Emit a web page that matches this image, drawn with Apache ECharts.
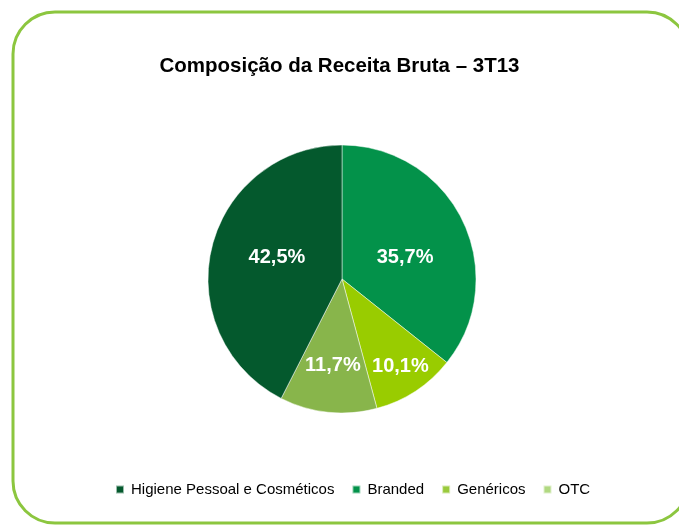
<!DOCTYPE html>
<html>
<head>
<meta charset="utf-8">
<script src="https://cdn.jsdelivr.net/npm/echarts@6/dist/echarts.min.js"></script>
<style>
  html, body { margin: 0; padding: 0; background: #fff; }
  #chart { width: 679px; height: 525px; }
</style>
</head>
<body>
<div id="chart"></div>
<script>
// dados do grafico
var categorias = ['Branded', 'Genéricos', 'OTC', 'Higiene Pessoal e Cosméticos'];
var valores = [35.7, 10.1, 11.7, 42.5];
var rotulos = ['35,7%', '10,1%', '11,7%', '42,5%'];
var legendaOrdem = ['Higiene Pessoal e Cosméticos', 'Branded', 'Genéricos', 'OTC'];

var cores = ['#03924a', '#99cc00', '#88b54b', '#04592d'];
var coresLegenda = { 'Higiene Pessoal e Cosméticos': '#04592d', 'Branded': '#03924a', 'Genéricos': '#9aca3c', 'OTC': '#b1d981' };
// fatias pequenas: rotulo empurrado para fora; ajuste fino dos rotulos
var escalaRotulo = [1, 1.52, 1.26, 1];
var ajusteX = [0, 0, 0, 3];
var ajusteY = [9, -1, -1, -5];

var CX = 342, CY = 279;

var myChart = echarts.init(document.getElementById('chart'));
myChart.setOption({
    animation: false,
    graphic: [{
        type: 'rect',
        shape: { x: 13, y: 12, width: 676, height: 511, r: 42 },
        style: { fill: 'none', stroke: '#8cc63f', lineWidth: 3 },
        silent: true
    }],
    title: {
        text: 'Composição da Receita Bruta – 3T13',
        left: 'center',
        top: 51,
        textStyle: { fontFamily: 'Liberation Sans, Arial', fontSize: 20.5, fontWeight: 'bold', color: '#000' }
    },
    legend: {
        data: legendaOrdem.map(function (n) { return { name: n, itemStyle: { color: coresLegenda[n] } }; }),
        left: 110,
        top: 477,
        icon: 'rect',
        itemWidth: 8,
        itemHeight: 8,
        itemGap: 17,
        textStyle: { fontFamily: 'Liberation Sans, Arial', fontSize: 15, color: '#000', padding: [0, 0, 0, 2] }
    },
    series: [{
        type: 'pie',
        center: [CX, CY],
        radius: [0, 134],
        startAngle: 90,
        clockwise: true,
        color: cores,
        itemStyle: { borderColor: 'rgba(255,255,255,0.6)', borderWidth: 0.8 },
        label: {
            show: true,
            position: 'inside',
            formatter: function (p) { return rotulos[p.dataIndex]; },
            fontFamily: 'Liberation Sans, Arial',
            fontSize: 20,
            fontWeight: 'bold',
            color: '#fff'
        },
        labelLayout: function (p) {
            var i = p.dataIndex;
            var k = escalaRotulo[i];
            var lx = p.labelRect.x + p.labelRect.width / 2;
            var ly = p.labelRect.y + p.labelRect.height / 2;
            return { dx: (lx - CX) * (k - 1) + ajusteX[i], dy: (ly - CY) * (k - 1) + ajusteY[i] };
        },
        emphasis: { disabled: true },
        data: categorias.map(function (c, i) { return { name: c, value: valores[i] }; })
    }]
});
</script>
</body>
</html>
